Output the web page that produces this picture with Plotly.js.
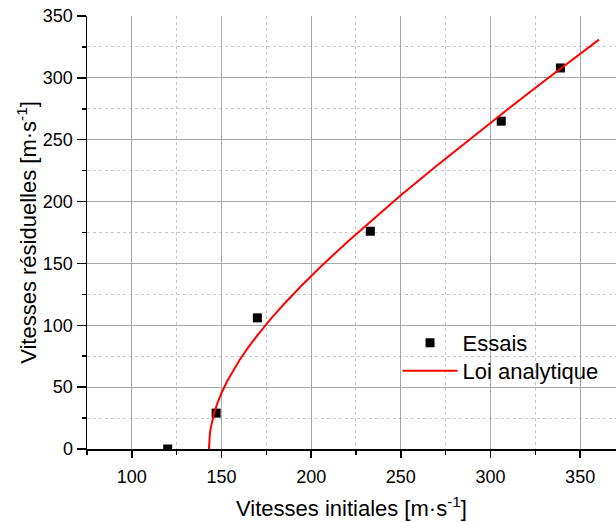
<!DOCTYPE html>
<html>
<head>
<meta charset="utf-8">
<script src="https://cdn.plot.ly/plotly-3.0.1.min.js"></script>
<style>html,body{margin:0;padding:0;background:#fff;}#chart{width:616px;height:522px;}</style>
</head>
<body>
<div id="chart"></div>
<script>
// Experimental points (Essais)
const essaisX = [120, 147, 170, 233, 306, 339];
const essaisY = [0, 29, 106, 176, 265, 308];
// Analytical law curve
const loiX = [143, 143.2, 143.5, 144, 145, 146, 147.5, 150, 153, 156, 160, 165, 170, 177.5, 185, 195, 205, 220, 235, 250, 270, 290, 310, 330, 345, 360.5];
const loiY = [0, 7.6, 12, 16.9, 24, 29.4, 36.2, 45.3, 54.4, 62.4, 71.8, 82.3, 91.9, 105.2, 117.4, 132.6, 146.9, 167.2, 186.5, 205.1, 229, 252.3, 275.1, 297.4, 314, 330.9];
const xTicks = [100, 150, 200, 250, 300, 350];
const yTicks = [0, 50, 100, 150, 200, 250, 300, 350];
const seriesNames = ['Essais', 'Loi analytique'];
const xTitle = 'Vitesses initiales [m·s<sup>-1</sup>]';
const yTitle = 'Vitesses résiduelles [m·s<sup>-1</sup>]';

const FONT = 'Liberation Sans, Arial, sans-serif';

const traces = [
  {
    x: essaisX, y: essaisY, name: seriesNames[0], type: 'scatter', mode: 'markers',
    marker: {symbol: 'square', size: 9, color: '#000000'}, legend: 'legend'
  },
  {
    x: loiX, y: loiY, name: seriesNames[1], type: 'scatter', mode: 'lines',
    line: {color: '#ff0000', width: 2, shape: 'linear'}, legend: 'legend2'
  }
];

const legendCommon = {
  xanchor: 'left', yanchor: 'top',
  bgcolor: 'rgba(0,0,0,0)', borderwidth: 0,
  font: {family: FONT, size: 22, color: '#000000'},
  itemwidth: 55
};

const layout = {
  width: 616, height: 522,
  margin: {l: 87, r: 0, t: 16, b: 73},
  paper_bgcolor: '#ffffff', plot_bgcolor: '#ffffff',
  font: {family: FONT, color: '#000000', size: 18},
  showlegend: true,
  legend: Object.assign({x: 0.587, y: 0.2933}, legendCommon),
  legend2: Object.assign({x: 0.587, y: 0.2286}, legendCommon),
  shapes: [{
    type: 'rect', xref: 'paper', yref: 'paper', layer: 'between',
    x0: 0.599, x1: 0.975, y0: 0.1415, y1: 0.284,
    fillcolor: '#ffffff', line: {width: 0}
  }],
  xaxis: {
    range: [75, 370],
    tickvals: xTicks, ticktext: xTicks.map(String),
    ticks: 'outside', ticklen: 7, tickwidth: 1.5, tickcolor: '#000000',
    ticklabelstandoff: 4,
    showline: true, linecolor: '#000000', linewidth: 1.5,
    showgrid: true, gridcolor: '#a8a8a8', gridwidth: 1,
    zeroline: false,
    tickfont: {family: FONT, size: 18, color: '#000000'},
    minor: {dtick: 25, tick0: 0, ticks: 'outside', ticklen: 4, tickwidth: 1.5, tickcolor: '#000000',
            showgrid: true, gridcolor: '#c8c8c8', griddash: 'dot', gridwidth: 1},
    title: {text: xTitle, font: {family: FONT, size: 22, color: '#000000'}, standoff: 14}
  },
  yaxis: {
    range: [0, 350],
    tickvals: yTicks, ticktext: yTicks.map(String),
    ticks: 'outside', ticklen: 9, tickwidth: 1.5, tickcolor: '#000000',
    showline: true, linecolor: '#000000', linewidth: 1.5,
    showgrid: true, gridcolor: '#a8a8a8', gridwidth: 1,
    zeroline: false,
    tickfont: {family: FONT, size: 18, color: '#000000'},
    minor: {dtick: 25, tick0: 0, ticks: 'outside', ticklen: 4, tickwidth: 1.5, tickcolor: '#000000',
            showgrid: true, gridcolor: '#c8c8c8', griddash: 'dot', gridwidth: 1},
    title: {text: yTitle, font: {family: FONT, size: 22, color: '#000000'}, standoff: 0}
  }
};

Plotly.newPlot('chart', traces, layout, {displayModeBar: false, staticPlot: true});
</script>
</body>
</html>
